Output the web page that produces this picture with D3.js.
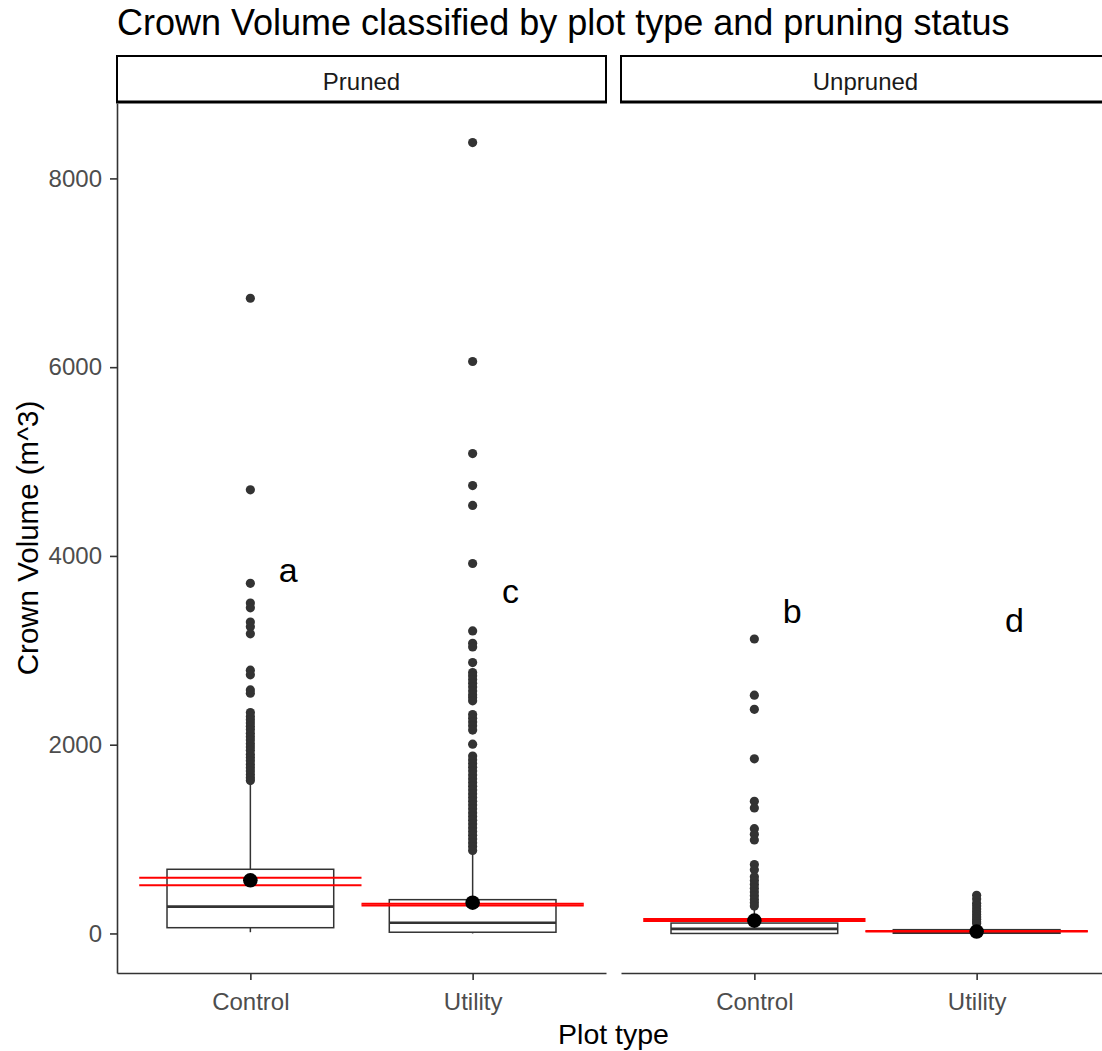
<!DOCTYPE html>
<html>
<head>
<meta charset="utf-8">
<script src="https://cdn.jsdelivr.net/npm/d3@7"></script>
<style>
  body { margin: 0; background: #fff; }
  svg { display: block; }
  text { font-family: "Liberation Sans", Arial, Helvetica, sans-serif; }
</style>
</head>
<body>
<svg id="chart" width="1102" height="1051"></svg>
<script>
// ---- data ----------------------------------------------------------------
const facets = ["Pruned", "Unpruned"];
const plotTypes = ["Control", "Utility"];
const yTicks = [0, 2000, 4000, 6000, 8000];

// box statistics: [lower whisker, Q1, median, Q3, upper whisker]
const prunedControlBox   = [13, 61, 284, 680, 1590];
const prunedUtilityBox   = [0, 13, 114, 358, 865];
const unprunedControlBox = [0, 0, 48, 110, 270];
const unprunedUtilityBox = [0, 2, 15, 40, 95];

// outlying trees (crown volume, m^3)
const prunedControlOutliers = [6730, 4700, 3710, 3500, 3450, 3300, 3250, 3175,
  2790, 2740, 2580, 2545, 2340, 2300, 2265, 2230, 2195, 2160, 2120, 2085, 2050,
  2010, 1975, 1940, 1900, 1865, 1830, 1790, 1755, 1720, 1685, 1650, 1620];
const prunedUtilityOutliers = [8380, 6060, 5085, 4745, 4535, 3920, 3205, 3075,
  3035, 2870, 2765, 2730, 2690, 2650, 2610, 2570, 2530, 2500, 2465, 2320, 2280,
  2240, 2200, 2155, 2005, 1880, 1840, 1800, 1760, 1720, 1680, 1640, 1600, 1560,
  1520, 1480, 1440, 1400, 1360, 1320, 1280, 1240, 1200, 1160, 1120, 1080, 1040,
  1000, 960, 920, 880];
const unprunedControlOutliers = [3120, 2525, 2375, 1850, 1400, 1330, 1110, 1050,
  990, 730, 675, 600, 560, 520, 480, 440, 400, 360, 325, 290];
const unprunedUtilityOutliers = [405, 365, 320, 290, 260, 230, 200, 175, 150,
  125, 105];

// mean and its interval: [mean, lower, upper]
const prunedControlMean   = [563, 510, 591];
const prunedUtilityMean   = [326, 295, 316];
const unprunedControlMean = [136, 131, 154];
const unprunedUtilityMean = [20, 21, 25];

// significance letters per facet/plot type and their heights
const letterText = [["a", "c"], ["b", "d"]];
const letterY    = [[3850, 3630], [3420, 3315]];

// ---- assemble groups ------------------------------------------------------
const boxes    = [[prunedControlBox, prunedUtilityBox], [unprunedControlBox, unprunedUtilityBox]];
const outliers = [[prunedControlOutliers, prunedUtilityOutliers], [unprunedControlOutliers, unprunedUtilityOutliers]];
const means    = [[prunedControlMean, prunedUtilityMean], [unprunedControlMean, unprunedUtilityMean]];

// ---- layout ---------------------------------------------------------------
const svg = d3.select("#chart");
const panelTop = 103, panelBottom = 973, panelW = 489;
const panelLeft = [117, 621];
const stripTop = 56;

const allVals = [].concat(...boxes.flat(), ...outliers.flat());
const yMin = d3.min(allVals), yMax = d3.max(allVals);
const pad = (yMax - yMin) * 0.05;
const y = d3.scaleLinear().domain([yMin - pad, yMax + pad]).range([panelBottom, panelTop]);

const boxWidth = 0.75, capWidth = 1.0;
const dark = "#333333";

// title
svg.append("text")
  .attr("x", 117).attr("y", 35)
  .attr("font-size", 36).attr("fill", "#000")
  .text("Crown Volume classified by plot type and pruning status");

facets.forEach((facet, fi) => {
  const x0 = panelLeft[fi];
  const x = d3.scaleLinear().domain([0.4, 2.6]).range([x0, x0 + panelW]);
  const g = svg.append("g");

  // strip
  g.append("rect")
    .attr("x", x0).attr("y", stripTop)
    .attr("width", panelW).attr("height", panelTop - stripTop - 1)
    .attr("fill", "#fff").attr("stroke", "#000").attr("stroke-width", 2);
  g.append("line")
    .attr("x1", x0 - 1).attr("x2", x0 + panelW + 1)
    .attr("y1", panelTop - 1).attr("y2", panelTop - 1)
    .attr("stroke", "#000").attr("stroke-width", 3);
  g.append("text")
    .attr("x", x0 + panelW / 2).attr("y", 82).attr("dy", "0.35em")
    .attr("text-anchor", "middle").attr("font-size", 24).attr("fill", "#1A1A1A")
    .text(facet);

  plotTypes.forEach((pt, pi) => {
    const cx = x(pi + 1);
    const [lo, q1, med, q3, hi] = boxes[fi][pi];
    const half = boxWidth / 2;
    const bx0 = x(pi + 1 - half), bx1 = x(pi + 1 + half);

    // whiskers
    g.append("line").attr("x1", cx).attr("x2", cx)
      .attr("y1", y(q3)).attr("y2", y(hi))
      .attr("stroke", dark).attr("stroke-width", 1.5);
    g.append("line").attr("x1", cx).attr("x2", cx)
      .attr("y1", y(q1)).attr("y2", y(lo))
      .attr("stroke", dark).attr("stroke-width", 1.5);

    // outliers
    g.selectAll(null).data(outliers[fi][pi]).join("circle")
      .attr("cx", cx).attr("cy", d => y(d)).attr("r", 4.6)
      .attr("fill", dark);

    // box and median
    g.append("rect")
      .attr("x", bx0).attr("y", y(q3))
      .attr("width", bx1 - bx0).attr("height", Math.max(0, y(q1) - y(q3)))
      .attr("fill", "#fff").attr("stroke", dark).attr("stroke-width", 1.5);
    g.append("line").attr("x1", bx0).attr("x2", bx1)
      .attr("y1", y(med)).attr("y2", y(med))
      .attr("stroke", dark).attr("stroke-width", 2.6);

    // mean interval (red error bar)
    const [mean, mlo, mhi] = means[fi][pi];
    const ex0 = x(pi + 1 - capWidth / 2), ex1 = x(pi + 1 + capWidth / 2);
    [mlo, mhi].forEach(v => {
      g.append("line").attr("x1", ex0).attr("x2", ex1)
        .attr("y1", y(v)).attr("y2", y(v))
        .attr("stroke", "#FF0000").attr("stroke-width", 2);
    });
    g.append("line").attr("x1", cx).attr("x2", cx)
      .attr("y1", y(mlo)).attr("y2", y(mhi))
      .attr("stroke", "#FF0000").attr("stroke-width", 2);

    // mean point
    g.append("circle").attr("cx", cx).attr("cy", y(mean)).attr("r", 7.3)
      .attr("fill", "#000");

    // letter
    g.append("text")
      .attr("x", x(pi + 1 + 0.17)).attr("y", y(letterY[fi][pi])).attr("dy", "0.35em")
      .attr("text-anchor", "middle").attr("font-size", 34).attr("fill", "#000")
      .text(letterText[fi][pi]);
  });

  // x axis
  const xAxis = d3.axisBottom(x).tickValues([1, 2])
    .tickFormat(d => plotTypes[d - 1])
    .tickSize(7).tickSizeOuter(0).tickPadding(13);
  const ax = svg.append("g").attr("transform", `translate(0,${panelBottom})`).call(xAxis);
  ax.select(".domain").attr("stroke", dark).attr("stroke-width", 1.6);
  ax.selectAll(".tick line").attr("stroke", dark).attr("stroke-width", 1.6);
  ax.selectAll(".tick text").attr("font-size", 24).attr("fill", "#4D4D4D")
    .attr("font-family", null);

  // y axis on the first panel only
  if (fi === 0) {
    const yAxis = d3.axisLeft(y).tickValues(yTicks).tickFormat(d3.format("d"))
      .tickSize(7).tickSizeOuter(0).tickPadding(8);
    const ay = svg.append("g").attr("transform", `translate(${x0},0)`).call(yAxis);
    ay.select(".domain").attr("stroke", dark).attr("stroke-width", 1.6);
    ay.selectAll(".tick line").attr("stroke", dark).attr("stroke-width", 1.6);
    ay.selectAll(".tick text").attr("font-size", 24).attr("fill", "#4D4D4D")
      .attr("font-family", null);
  }
});

// axis titles
svg.append("text")
  .attr("x", (panelLeft[0] + panelLeft[1] + panelW) / 2).attr("y", 1044)
  .attr("text-anchor", "middle").attr("font-size", 28.5).attr("fill", "#000")
  .text("Plot type");
svg.append("text")
  .attr("transform", `translate(38,${(panelTop + panelBottom) / 2}) rotate(-90)`)
  .attr("text-anchor", "middle").attr("font-size", 29.5).attr("fill", "#000")
  .text("Crown Volume (m^3)");
</script>
</body>
</html>
